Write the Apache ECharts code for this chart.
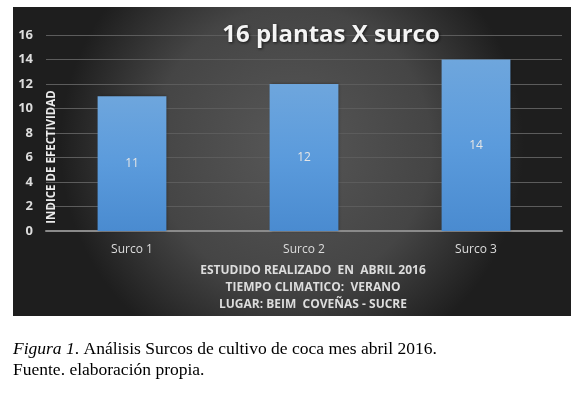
<!DOCTYPE html>
<html><head><meta charset="utf-8">
<script src="https://cdn.jsdelivr.net/npm/echarts@6/dist/echarts.min.js"></script>
<style>html,body{margin:0;padding:0;background:#fff}#c{width:585px;height:393px}</style>
</head><body><div id="c"></div>
<script>
const categories = ['Surco 1', 'Surco 2', 'Surco 3'];
const values = [11, 12, 14];
const titleText = '16 plantas X surco';
const yAxisName = 'INDICE DE EFECTIVIDAD';
const noteLines = ['ESTUDIDO REALIZADO  EN  ABRIL 2016', 'TIEMPO CLIMATICO:  VERANO', 'LUGAR: BEIM  COVEÑAS - SUCRE'];

const chart = echarts.init(document.getElementById('c'));
const sans = 'Open Sans, Noto Sans, sans-serif';
const serif = 'Liberation Serif, Times New Roman, serif';
chart.setOption({
  animation: false,
  backgroundColor: '#fff',
  title: {
    text: titleText, left: 326, top: 18, textAlign: 'center',
    textStyle: { color: '#f4f4f4', fontSize: 24, fontWeight: 'bold', fontFamily: sans,
      textShadowColor: 'rgba(0,0,0,0.7)', textShadowBlur: 3, textShadowOffsetX: 1, textShadowOffsetY: 1 }
  },
  graphic: [
    { type: 'rect', z: -10, silent: true, shape: { x: 13, y: 7, width: 558, height: 309 },
      style: { fill: { type: 'radial', x: 0.5, y: 0.45, r: 0.75,
        colorStops: [{ offset: 0, color: '#575757' }, { offset: 0.6, color: '#454545' }, { offset: 1, color: '#1e1e1e' }] } } },
    { type: 'text', x: 52, y: 157, rotation: Math.PI / 2, z: 10,
      style: { text: yAxisName, fill: '#ececec', font: 'bold 11.5px ' + sans, align: 'center', verticalAlign: 'middle' } },
    { type: 'text', x: 313, y: 271, style: { text: noteLines[0], fill: '#dddddd', font: 'bold 12px ' + sans, align: 'center', verticalAlign: 'middle' } },
    { type: 'text', x: 313, y: 288, style: { text: noteLines[1], fill: '#dddddd', font: 'bold 12px ' + sans, align: 'center', verticalAlign: 'middle' } },
    { type: 'text', x: 313, y: 305, style: { text: noteLines[2], fill: '#dddddd', font: 'bold 12px ' + sans, align: 'center', verticalAlign: 'middle' } },
    { type: 'text', x: 13, y: 349, style: { verticalAlign: 'middle', rich: { i: { fontStyle: 'italic', fontFamily: serif, fontSize: 17.5, fill: '#000' }, n: { fontFamily: serif, fontSize: 17.5, fill: '#000' } }, text: '{i|Figura 1}{n|. Análisis Surcos de cultivo de coca mes abril 2016.}' } },
    { type: 'text', x: 13, y: 370, style: { text: 'Fuente. elaboración propia.', font: '17.5px ' + serif, fill: '#000', verticalAlign: 'middle' } }
  ],
  grid: { left: 46, right: 23, top: 35, bottom: 162, containLabel: false, outerBoundsMode: 'none' },
  xAxis: {
    type: 'category', data: categories,
    axisLine: { lineStyle: { color: '#8a8a8a', width: 2 } },
    axisTick: { show: false },
    axisLabel: { color: '#dddddd', fontSize: 12, fontFamily: sans, margin: 13 }
  },
  yAxis: {
    type: 'value', min: 0, max: 16, interval: 2,
    axisLine: { show: false }, axisTick: { show: false },
    axisLabel: { color: '#dddddd', fontSize: 13, fontWeight: 'bold', fontFamily: sans, margin: 13 },
    splitLine: { lineStyle: { color: '#5c5c5c', width: 1 } }
  },
  series: [{
    type: 'bar', data: values, barWidth: '40%',
    itemStyle: { color: { type: 'linear', x: 0, y: 0, x2: 0, y2: 1,
      colorStops: [{ offset: 0, color: '#6ea6dd' }, { offset: 0.5, color: '#5b9bdc' }, { offset: 1, color: '#4a8bd0' }] },
      shadowColor: 'rgba(0,0,0,0.4)', shadowBlur: 3, shadowOffsetX: 1 },
    label: { show: true, position: 'inside', color: '#e6e6e6', fontSize: 12, fontFamily: sans }
  }]
});
</script></body></html>
